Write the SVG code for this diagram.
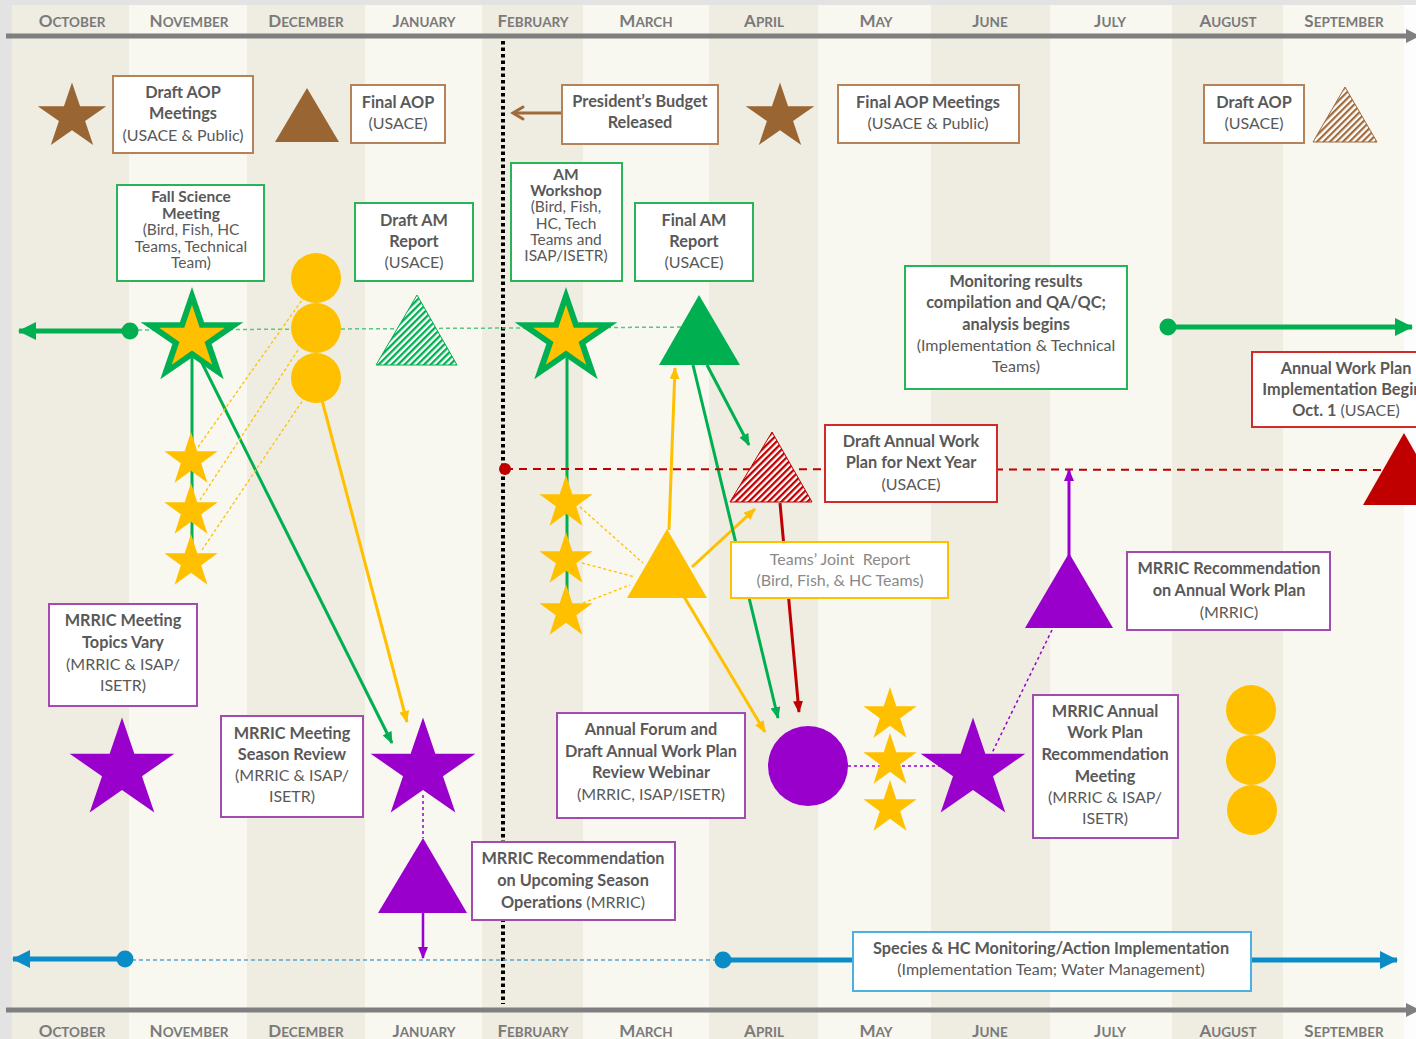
<svg xmlns="http://www.w3.org/2000/svg" width="1416" height="1039" viewBox="0 0 1416 1039">
<defs>
<style>
.bd{fill:#efece2}
.bl{fill:#f8f7f0}
.month{font-family:Lato,"Liberation Sans",sans-serif;font-weight:700;font-size:17px;fill:#7a7a7a;text-anchor:middle}
.sc{font-size:13.5px}
.box{fill:#fff;stroke-width:2}
.kb{stroke:#b5835a}
.kg{stroke:#2bb35a}
.kp{stroke:#a34bb0}
.kr{stroke:#d02a2a}
.ky{stroke:#ffc000}
.kc{stroke:#4bb1df}
.t{font-family:Lato,"Liberation Sans",sans-serif;font-size:16px;fill:#595959;text-anchor:middle}
.tl{fill:#8a8a8a}
.b{font-weight:700;font-size:16.3px}
.tt tspan{font-size:15.5px}
.lg{stroke:#00b050;stroke-width:3;fill:none}
.ly{stroke:#ffc000;stroke-width:3;fill:none}
.lr{stroke:#c00000;stroke-width:3;fill:none}
.lp{stroke:#9900cc;stroke-width:3;fill:none}
.dy{stroke:#ffc000;stroke-width:1.3;stroke-dasharray:3 2.5;fill:none}
.dp{stroke:#9900cc;stroke-width:1.5;stroke-dasharray:3 3;fill:none}
</style>
<path id="star" d="M0,-1 L0.2245,-0.309 L0.9511,-0.309 L0.3633,0.118 L0.5878,0.809 L0,0.382 L-0.5878,0.809 L-0.3633,0.118 L-0.9511,-0.309 L-0.2245,-0.309 Z"/>
<pattern id="hb" patternUnits="userSpaceOnUse" width="4.6" height="4.6" patternTransform="rotate(-45)"><rect width="4.6" height="4.6" fill="#fff"/><rect width="4.6" height="2.2" fill="#a06a3a"/></pattern>
<pattern id="hg" patternUnits="userSpaceOnUse" width="4.6" height="4.6" patternTransform="rotate(-45)"><rect width="4.6" height="4.6" fill="#fff"/><rect width="4.6" height="2.3" fill="#00b050"/></pattern>
<pattern id="hr" patternUnits="userSpaceOnUse" width="4.6" height="4.6" patternTransform="rotate(-45)"><rect width="4.6" height="4.6" fill="#fff"/><rect width="4.6" height="2.3" fill="#c00000"/></pattern>
<marker id="agS" viewBox="0 0 12 10" refX="11" refY="5" markerWidth="12" markerHeight="10" markerUnits="userSpaceOnUse" orient="auto"><path d="M0,0 L12,5 L0,10 Z" fill="#00b050"/></marker>
<marker id="ayS" viewBox="0 0 12 10" refX="11" refY="5" markerWidth="12" markerHeight="10" markerUnits="userSpaceOnUse" orient="auto"><path d="M0,0 L12,5 L0,10 Z" fill="#ffc000"/></marker>
<marker id="arS" viewBox="0 0 12 10" refX="11" refY="5" markerWidth="12" markerHeight="10" markerUnits="userSpaceOnUse" orient="auto"><path d="M0,0 L12,5 L0,10 Z" fill="#c00000"/></marker>
<marker id="apS" viewBox="0 0 12 10" refX="11" refY="5" markerWidth="12" markerHeight="10" markerUnits="userSpaceOnUse" orient="auto"><path d="M0,0 L12,5 L0,10 Z" fill="#9900cc"/></marker>
<marker id="agL" viewBox="0 0 18 18" refX="17" refY="9" markerWidth="18" markerHeight="18" markerUnits="userSpaceOnUse" orient="auto"><path d="M0,0 L18,9 L0,18 Z" fill="#00b050"/></marker>
<marker id="abL" viewBox="0 0 18 18" refX="17" refY="9" markerWidth="18" markerHeight="18" markerUnits="userSpaceOnUse" orient="auto"><path d="M0,0 L18,9 L0,18 Z" fill="#0a8cc6"/></marker>
<marker id="abr" viewBox="0 0 12 14" refX="11" refY="7" markerWidth="12" markerHeight="14" markerUnits="userSpaceOnUse" orient="auto" style="overflow:visible"><path d="M1,1 L11,7 L1,13" fill="none" stroke="#a06a3a" stroke-width="3" stroke-linecap="round"/></marker>
</defs>

<g id="background">
<rect width="1416" height="1039" fill="#fdfdfd"/>
<rect x="12" y="5" width="117" height="1034" class="bd"/>
<rect x="129" y="5" width="118" height="1034" class="bl"/>
<rect x="247" y="5" width="118" height="1034" class="bd"/>
<rect x="365" y="5" width="117" height="1034" class="bl"/>
<rect x="482" y="5" width="101" height="1034" class="bd"/>
<rect x="583" y="5" width="126" height="1034" class="bl"/>
<rect x="709" y="5" width="109" height="1034" class="bd"/>
<rect x="818" y="5" width="113" height="1034" class="bl"/>
<rect x="931" y="5" width="119" height="1034" class="bd"/>
<rect x="1050" y="5" width="122" height="1034" class="bl"/>
<rect x="1172" y="5" width="111" height="1034" class="bd"/>
<rect x="1283" y="5" width="121" height="1034" class="bl"/>
<rect x="0" y="0" width="12" height="1039" fill="#e3e3e3"/>
<rect x="0" y="0" width="1416" height="5" fill="#e3e3e3"/>
</g>

<g id="axes">
<line x1="6" y1="36" x2="1410" y2="36" stroke="#7f7f7f" stroke-width="5"/>
<polygon points="1406,29 1420,36 1406,43" fill="#7f7f7f"/>
<line x1="6" y1="1010" x2="1410" y2="1010" stroke="#7f7f7f" stroke-width="5"/>
<polygon points="1406,1003 1420,1010 1406,1017" fill="#7f7f7f"/>
<g class="month">
<text x="72" y="27">O<tspan class="sc">CTOBER</tspan></text><text x="189" y="27">N<tspan class="sc">OVEMBER</tspan></text><text x="306" y="27">D<tspan class="sc">ECEMBER</tspan></text><text x="424" y="27">J<tspan class="sc">ANUARY</tspan></text>
<text x="533" y="27">F<tspan class="sc">EBRUARY</tspan></text><text x="646" y="27">M<tspan class="sc">ARCH</tspan></text><text x="764" y="27">A<tspan class="sc">PRIL</tspan></text><text x="876" y="27">M<tspan class="sc">AY</tspan></text>
<text x="990" y="27">J<tspan class="sc">UNE</tspan></text><text x="1110" y="27">J<tspan class="sc">ULY</tspan></text><text x="1228" y="27">A<tspan class="sc">UGUST</tspan></text><text x="1344" y="27">S<tspan class="sc">EPTEMBER</tspan></text>
<text x="72" y="1037">O<tspan class="sc">CTOBER</tspan></text><text x="189" y="1037">N<tspan class="sc">OVEMBER</tspan></text><text x="306" y="1037">D<tspan class="sc">ECEMBER</tspan></text><text x="424" y="1037">J<tspan class="sc">ANUARY</tspan></text>
<text x="533" y="1037">F<tspan class="sc">EBRUARY</tspan></text><text x="646" y="1037">M<tspan class="sc">ARCH</tspan></text><text x="764" y="1037">A<tspan class="sc">PRIL</tspan></text><text x="876" y="1037">M<tspan class="sc">AY</tspan></text>
<text x="990" y="1037">J<tspan class="sc">UNE</tspan></text><text x="1110" y="1037">J<tspan class="sc">ULY</tspan></text><text x="1228" y="1037">A<tspan class="sc">UGUST</tspan></text><text x="1344" y="1037">S<tspan class="sc">EPTEMBER</tspan></text>
</g>
<line x1="503" y1="41" x2="503" y2="1004" stroke="#000" stroke-width="4" stroke-dasharray="3.5 3"/>
</g>

<g id="connectors">
<line x1="562" y1="113" x2="513" y2="113" stroke="#a06a3a" stroke-width="3" marker-end="url(#abr)"/>
<line x1="138" y1="330" x2="700" y2="327" stroke="#5cc585" stroke-width="1.5" stroke-dasharray="4 3"/>
<line x1="130" y1="331" x2="19" y2="331" stroke="#00b050" stroke-width="5" marker-end="url(#agL)"/>
<circle cx="130" cy="331" r="8.5" fill="#00b050"/>
<line x1="192" y1="345" x2="192" y2="555" class="lg"/>
<line x1="193" y1="345" x2="392" y2="743" class="lg" marker-end="url(#agS)"/>
<line x1="318" y1="385" x2="407" y2="722" class="ly" marker-end="url(#ayS)"/>
<line x1="198" y1="447" x2="302" y2="300" class="dy"/>
<line x1="200" y1="500" x2="298" y2="350" class="dy"/>
<line x1="202" y1="550" x2="303" y2="400" class="dy"/>
<line x1="567" y1="345" x2="567" y2="600" class="lg"/>
<line x1="580" y1="507" x2="643" y2="563" class="dy"/>
<line x1="582" y1="563" x2="635" y2="577" class="dy"/>
<line x1="583" y1="603" x2="630" y2="585" class="dy"/>
<line x1="669" y1="530" x2="675" y2="368" class="ly" marker-end="url(#ayS)"/>
<line x1="692" y1="567" x2="755" y2="509" class="ly" marker-end="url(#ayS)"/>
<line x1="680" y1="590" x2="765" y2="732" class="ly" marker-end="url(#ayS)"/>
<line x1="707" y1="365" x2="749" y2="445" class="lg" marker-end="url(#agS)"/>
<line x1="693" y1="365" x2="778" y2="718" class="lg" marker-end="url(#agS)"/>
<line x1="505" y1="469" x2="1416" y2="470" stroke="#c00000" stroke-width="2" stroke-dasharray="8 6"/>
<circle cx="505" cy="469" r="6" fill="#c00000"/>
<line x1="780" y1="503" x2="799" y2="712" class="lr" marker-end="url(#arS)"/>
<line x1="1168" y1="327" x2="1412" y2="327" stroke="#00b050" stroke-width="5" marker-end="url(#agL)"/>
<circle cx="1168" cy="327" r="8.5" fill="#00b050"/>
<line x1="1069" y1="556" x2="1069" y2="470" class="lp" marker-end="url(#apS)"/>
<line x1="1052" y1="630" x2="992" y2="753" class="dp"/>
<line x1="848" y1="766" x2="940" y2="766" class="dp"/>
<line x1="423" y1="795" x2="423" y2="838" class="dp"/>
<line x1="423" y1="913" x2="423" y2="958" stroke="#9900cc" stroke-width="2.5" marker-end="url(#apS)"/>
<line x1="125" y1="960" x2="722" y2="960" stroke="#5aa8d0" stroke-width="1.5" stroke-dasharray="4 3"/>
<line x1="125" y1="959" x2="13" y2="959" stroke="#0a8cc6" stroke-width="5" marker-end="url(#abL)"/>
<circle cx="125" cy="959" r="8.5" fill="#0a8cc6"/>
<line x1="723" y1="960" x2="855" y2="960" stroke="#0a8cc6" stroke-width="5"/>
<circle cx="723" cy="960" r="8.5" fill="#0a8cc6"/>
<line x1="1250" y1="960" x2="1397" y2="960" stroke="#0a8cc6" stroke-width="5" marker-end="url(#abL)"/>
</g>

<g id="brown-star-1"><use href="#star" transform="translate(72,117) scale(36,34.5)" fill="#996633"/></g>
<g id="draft-aop-meetings"><rect x="113" y="76" width="140" height="77" class="box kb"/>
<text class="t"><tspan x="183" y="98" class="b">Draft AOP</tspan><tspan x="183" y="119" class="b">Meetings</tspan><tspan x="183" y="141">(USACE &amp; Public)</tspan></text></g>
<g id="brown-triangle"><polygon points="307,88 339,142 275,142" fill="#996633"/></g>
<g id="final-aop"><rect x="351" y="85" width="94" height="58" class="box kb"/>
<text class="t"><tspan x="398" y="108" class="b">Final AOP</tspan><tspan x="398" y="129">(USACE)</tspan></text></g>
<g id="presidents-budget"><rect x="562" y="85" width="156" height="59" class="box kb"/>
<text class="t"><tspan x="640" y="107" class="b">President’s Budget</tspan><tspan x="640" y="128" class="b">Released</tspan></text></g>
<g id="brown-star-2"><use href="#star" transform="translate(780,117) scale(36,34.5)" fill="#996633"/></g>
<g id="final-aop-meetings"><rect x="838" y="85" width="181" height="58" class="box kb"/>
<text class="t"><tspan x="928" y="108" class="b">Final AOP Meetings</tspan><tspan x="928" y="129">(USACE &amp; Public)</tspan></text></g>
<g id="draft-aop"><rect x="1204" y="85" width="100" height="58" class="box kb"/>
<text class="t"><tspan x="1254" y="108" class="b">Draft AOP</tspan><tspan x="1254" y="129">(USACE)</tspan></text></g>
<g id="brown-hatched-triangle"><polygon points="1345,87 1377,142 1313,142" fill="url(#hb)" stroke="#a06a3a" stroke-width="1"/></g>

<g id="fall-science-meeting"><rect x="117" y="185" width="147" height="96" class="box kg"/>
<text class="t tt"><tspan x="191" y="202" class="b">Fall Science</tspan><tspan x="191" y="218.5" class="b">Meeting</tspan><tspan x="191" y="235">(Bird, Fish, HC</tspan><tspan x="191" y="251.5">Teams, Technical</tspan><tspan x="191" y="268">Team)</tspan></text></g>
<g id="draft-am-report"><rect x="355" y="203" width="118" height="78" class="box kg"/>
<text class="t"><tspan x="414" y="226" class="b">Draft AM</tspan><tspan x="414" y="247" class="b">Report</tspan><tspan x="414" y="268">(USACE)</tspan></text></g>
<g id="yellow-circles-1"><circle cx="316" cy="278" r="25" fill="#ffc000"/><circle cx="316" cy="328" r="25" fill="#ffc000"/><circle cx="316" cy="378" r="25" fill="#ffc000"/></g>
<g id="green-hatched-triangle"><polygon points="417,295 457,365 376,365" fill="url(#hg)" stroke="#00b050" stroke-width="1"/></g>
<g id="green-star-1"><use href="#star" transform="translate(192,338) scale(54,51)" fill="#00b050"/><use href="#star" transform="translate(192,338) scale(34.5,33)" fill="#ffc000"/></g>
<g id="yellow-stars-1"><use href="#star" transform="translate(191,460) scale(28)" fill="#ffc000"/><use href="#star" transform="translate(191,511) scale(28)" fill="#ffc000"/><use href="#star" transform="translate(191,562) scale(28)" fill="#ffc000"/></g>

<g id="am-workshop"><rect x="511" y="163" width="111" height="118" class="box kg"/>
<text class="t tt"><tspan x="566" y="179.5" class="b">AM</tspan><tspan x="566" y="196" class="b">Workshop</tspan><tspan x="566" y="212">(Bird, Fish,</tspan><tspan x="566" y="228.5">HC, Tech</tspan><tspan x="566" y="244.5">Teams and</tspan><tspan x="566" y="261">ISAP/ISETR)</tspan></text></g>
<g id="final-am-report"><rect x="635" y="203" width="118" height="78" class="box kg"/>
<text class="t"><tspan x="694" y="226" class="b">Final AM</tspan><tspan x="694" y="247" class="b">Report</tspan><tspan x="694" y="268">(USACE)</tspan></text></g>
<g id="green-star-2"><use href="#star" transform="translate(566,338) scale(54,51)" fill="#00b050"/><use href="#star" transform="translate(566,338) scale(34.5,33)" fill="#ffc000"/></g>
<g id="green-triangle"><polygon points="699,295 740,365 659,365" fill="#00b050"/></g>
<g id="yellow-stars-2"><use href="#star" transform="translate(566,503) scale(28)" fill="#ffc000"/><use href="#star" transform="translate(566,560) scale(28)" fill="#ffc000"/><use href="#star" transform="translate(566,612) scale(28)" fill="#ffc000"/></g>
<g id="yellow-triangle"><polygon points="667,529 707,598 627,598" fill="#ffc000"/></g>
<g id="red-hatched-triangle"><polygon points="772,432 812,502 730,502" fill="url(#hr)" stroke="#c00000" stroke-width="1"/></g>

<g id="monitoring-results"><rect x="905" y="266" width="222" height="123" class="box kg"/>
<text class="t"><tspan x="1016" y="287" class="b">Monitoring results</tspan><tspan x="1016" y="308" class="b">compilation and QA/QC;</tspan><tspan x="1016" y="330" class="b">analysis begins</tspan><tspan x="1016" y="351">(Implementation &amp; Technical</tspan><tspan x="1016" y="372">Teams)</tspan></text></g>
<g id="annual-work-plan-implementation"><rect x="1252" y="352" width="190" height="75" class="box kr"/>
<text class="t"><tspan x="1346" y="374" class="b">Annual Work Plan</tspan><tspan x="1346" y="395" class="b">Implementation Begins</tspan><tspan x="1346" y="416"><tspan class="b">Oct. 1</tspan> (USACE)</tspan></text></g>
<g id="red-triangle"><polygon points="1404,433 1445,505 1363,505" fill="#c00000"/></g>
<g id="draft-annual-work-plan"><rect x="825" y="425" width="172" height="77" class="box kr"/>
<text class="t"><tspan x="911" y="447" class="b">Draft Annual Work</tspan><tspan x="911" y="468" class="b">Plan for Next Year</tspan><tspan x="911" y="490">(USACE)</tspan></text></g>
<g id="teams-joint-report"><rect x="731" y="542" width="217" height="56" class="box ky"/>
<text class="t tl"><tspan x="840" y="565">Teams’ Joint&#160; Report</tspan><tspan x="840" y="586">(Bird, Fish, &amp; HC Teams)</tspan></text></g>
<g id="purple-triangle-2"><polygon points="1069,553 1113,628 1025,628" fill="#9900cc"/></g>
<g id="mrric-rec-annual-work-plan"><rect x="1127" y="552" width="203" height="78" class="box kp"/>
<text class="t"><tspan x="1229" y="574" class="b">MRRIC Recommendation</tspan><tspan x="1229" y="596" class="b">on Annual Work Plan</tspan><tspan x="1229" y="618">(MRRIC)</tspan></text></g>

<g id="mrric-topics-vary"><rect x="49" y="604" width="148" height="102" class="box kp"/>
<text class="t"><tspan x="123" y="626" class="b">MRRIC Meeting</tspan><tspan x="123" y="648" class="b">Topics Vary</tspan><tspan x="123" y="670">(MRRIC &amp; ISAP/</tspan><tspan x="123" y="691">ISETR)</tspan></text></g>
<g id="purple-star-1"><use href="#star" transform="translate(122,770) scale(55,52.5)" fill="#9900cc"/></g>
<g id="mrric-season-review"><rect x="221" y="716" width="142" height="101" class="box kp"/>
<text class="t"><tspan x="292" y="739" class="b">MRRIC Meeting</tspan><tspan x="292" y="760" class="b">Season Review</tspan><tspan x="292" y="781">(MRRIC &amp; ISAP/</tspan><tspan x="292" y="802">ISETR)</tspan></text></g>
<g id="purple-star-2"><use href="#star" transform="translate(423,770) scale(55,52.5)" fill="#9900cc"/></g>
<g id="purple-triangle-1"><polygon points="423,838 467,913 378,913" fill="#9900cc"/></g>
<g id="mrric-rec-upcoming-season"><rect x="472" y="842" width="203" height="78" class="box kp"/>
<text class="t"><tspan x="573" y="864" class="b">MRRIC Recommendation</tspan><tspan x="573" y="886" class="b">on Upcoming Season</tspan><tspan x="573" y="908"><tspan class="b">Operations</tspan> (MRRIC)</tspan></text></g>
<g id="annual-forum"><rect x="557" y="713" width="188" height="105" class="box kp"/>
<text class="t"><tspan x="651" y="735" class="b">Annual Forum and</tspan><tspan x="651" y="757" class="b">Draft Annual Work Plan</tspan><tspan x="651" y="778" class="b">Review Webinar</tspan><tspan x="651" y="800">(MRRIC, ISAP/ISETR)</tspan></text></g>
<g id="purple-circle"><circle cx="808" cy="766" r="40" fill="#9900cc"/></g>
<g id="yellow-stars-3"><use href="#star" transform="translate(890,715) scale(28)" fill="#ffc000"/><use href="#star" transform="translate(890,761) scale(28)" fill="#ffc000"/><use href="#star" transform="translate(890,808) scale(28)" fill="#ffc000"/></g>
<g id="purple-star-3"><use href="#star" transform="translate(973,770) scale(55,52.5)" fill="#9900cc"/></g>
<g id="mrric-annual-wp-rec-meeting"><rect x="1033" y="695" width="145" height="143" class="box kp"/>
<text class="t"><tspan x="1105" y="717" class="b">MRRIC Annual</tspan><tspan x="1105" y="738" class="b">Work Plan</tspan><tspan x="1105" y="760" class="b">Recommendation</tspan><tspan x="1105" y="782" class="b">Meeting</tspan><tspan x="1105" y="803">(MRRIC &amp; ISAP/</tspan><tspan x="1105" y="824">ISETR)</tspan></text></g>
<g id="yellow-circles-2"><circle cx="1251" cy="710" r="25" fill="#ffc000"/><circle cx="1251" cy="760" r="25" fill="#ffc000"/><circle cx="1252" cy="810" r="25" fill="#ffc000"/></g>
<g id="species-hc-monitoring"><rect x="853" y="932" width="398" height="59" class="box kc"/>
<text class="t"><tspan x="1051" y="954" class="b">Species &amp; HC Monitoring/Action Implementation</tspan><tspan x="1051" y="975">(Implementation Team; Water Management)</tspan></text></g>
</svg>
